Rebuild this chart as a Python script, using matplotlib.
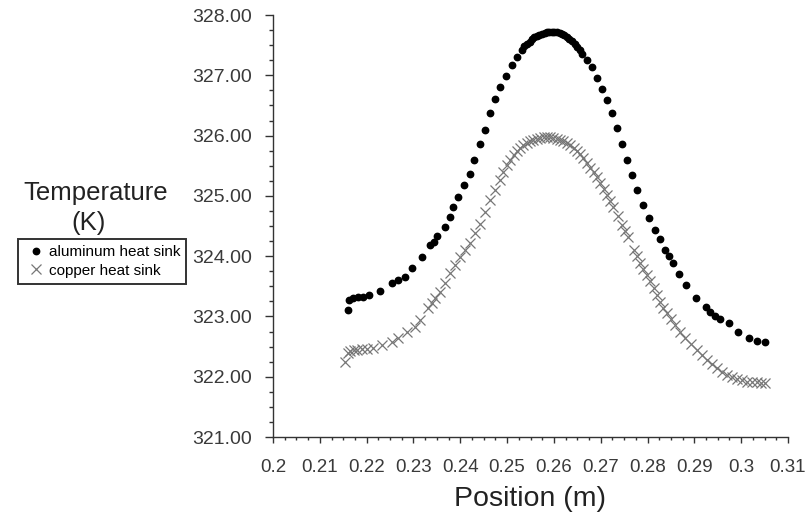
import numpy as np
import matplotlib.pyplot as plt
from matplotlib.ticker import MultipleLocator, FormatStrFormatter

plt.rcParams['font.family'] = ['Liberation Sans', 'DejaVu Sans']

# temperature along the line, aluminum heat sink
al_x = [0.2160, 0.2162, 0.2170, 0.2181, 0.2192, 0.2206, 0.2228, 0.2254, 0.2267, 0.2282,
        0.2296, 0.2318, 0.2335, 0.2343, 0.2350, 0.2368, 0.2378, 0.2385, 0.2396, 0.2407,
        0.2421, 0.2430, 0.2442, 0.2453, 0.2464, 0.2474, 0.2485, 0.2498, 0.2510, 0.2521,
        0.2531, 0.2537, 0.2542, 0.2548, 0.2553, 0.2558, 0.2563, 0.2568, 0.2574, 0.2580,
        0.2585, 0.2590, 0.2596, 0.2601, 0.2606, 0.2612, 0.2617, 0.2622, 0.2628, 0.2633,
        0.2638, 0.2644, 0.2649, 0.2655, 0.2660, 0.2670, 0.2681, 0.2692, 0.2702, 0.2713,
        0.2724, 0.2734, 0.2745, 0.2756, 0.2766, 0.2777, 0.2791, 0.2804, 0.2816, 0.2827,
        0.2838, 0.2845, 0.2854, 0.2868, 0.2882, 0.2904, 0.2925, 0.2934, 0.2944, 0.2955,
        0.2973, 0.2994, 0.3016, 0.3034, 0.3051]
al_t = [323.11, 323.27, 323.30, 323.32, 323.33, 323.36, 323.42, 323.55, 323.60, 323.66,
        323.81, 323.99, 324.18, 324.23, 324.33, 324.49, 324.65, 324.81, 324.98, 325.18,
        325.37, 325.59, 325.86, 326.10, 326.37, 326.60, 326.81, 326.99, 327.17, 327.30,
        327.42, 327.48, 327.52, 327.56, 327.60, 327.63, 327.65, 327.67, 327.69, 327.70,
        327.71, 327.72, 327.72, 327.72, 327.71, 327.70, 327.68, 327.66, 327.64, 327.61,
        327.57, 327.52, 327.47, 327.42, 327.36, 327.26, 327.14, 326.96, 326.78, 326.59,
        326.37, 326.12, 325.86, 325.59, 325.34, 325.10, 324.85, 324.64, 324.44, 324.28,
        324.11, 324.00, 323.88, 323.70, 323.52, 323.30, 323.16, 323.08, 323.01, 322.96,
        322.89, 322.75, 322.65, 322.60, 322.58]

# copper heat sink
cu_x = [0.2154, 0.2160, 0.2165, 0.2172, 0.2180, 0.2190, 0.2200, 0.2214, 0.2232, 0.2254,
        0.2268, 0.2286, 0.2303, 0.2314, 0.2331, 0.2339, 0.2346, 0.2357, 0.2368, 0.2378,
        0.2389, 0.2400, 0.2410, 0.2421, 0.2432, 0.2442, 0.2453, 0.2464, 0.2475, 0.2485,
        0.2492, 0.2499, 0.2506, 0.2514, 0.2521, 0.2528, 0.2535, 0.2542, 0.2549, 0.2556,
        0.2563, 0.2571, 0.2578, 0.2585, 0.2592, 0.2599, 0.2606, 0.2613, 0.2620, 0.2628,
        0.2635, 0.2642, 0.2649, 0.2656, 0.2663, 0.2670, 0.2677, 0.2685, 0.2692, 0.2699,
        0.2706, 0.2713, 0.2720, 0.2727, 0.2736, 0.2745, 0.2752, 0.2759, 0.2770, 0.2777,
        0.2784, 0.2791, 0.2798, 0.2806, 0.2813, 0.2820, 0.2827, 0.2834, 0.2841, 0.2850,
        0.2859, 0.2870, 0.2880, 0.2892, 0.2905, 0.2916, 0.2927, 0.2938, 0.2948, 0.2958,
        0.2969, 0.2980, 0.2991, 0.3002, 0.3012, 0.3023, 0.3034, 0.3043, 0.3051]
cu_t = [322.25, 322.39, 322.43, 322.45, 322.44, 322.46, 322.46, 322.48, 322.53, 322.58,
        322.64, 322.75, 322.83, 322.94, 323.14, 323.22, 323.30, 323.41, 323.55, 323.72,
        323.86, 323.99, 324.10, 324.22, 324.38, 324.54, 324.74, 324.93, 325.10, 325.26,
        325.40, 325.52, 325.60, 325.68, 325.74, 325.80, 325.84, 325.88, 325.91, 325.93,
        325.95, 325.96, 325.97, 325.97, 325.97, 325.96, 325.95, 325.93, 325.91, 325.88,
        325.84, 325.80, 325.75, 325.69, 325.62, 325.55, 325.47, 325.40, 325.31, 325.22,
        325.12, 325.02, 324.92, 324.82, 324.67, 324.52, 324.41, 324.31, 324.11, 324.00,
        323.88, 323.78, 323.69, 323.58, 323.47, 323.36, 323.24, 323.14, 323.05, 322.95,
        322.86, 322.75, 322.64, 322.54, 322.44, 322.36, 322.28, 322.21, 322.14, 322.08,
        322.03, 322.00, 321.97, 321.94, 321.92, 321.92, 321.91, 321.90, 321.89]

xtick_labels = ['0.2', '0.21', '0.22', '0.23', '0.24', '0.25', '0.26',
                '0.27', '0.28', '0.29', '0.3', '0.31']

fig = plt.figure(figsize=(8.07, 5.19), dpi=100)
ax = fig.add_axes([273/807, 1 - 437/519, (788 - 273)/807, (437 - 15)/519])

ax.plot(al_x, al_t, linestyle='none', marker='o', markersize=4.6,
        color='black', label='aluminum heat sink')
ax.plot(cu_x, cu_t, linestyle='none', marker='x', markersize=6.5, markeredgewidth=0.9,
        color='#777777', label='copper heat sink')

ax.set_xlim(0.2, 0.31)
ax.set_ylim(321, 328)
ax.xaxis.set_minor_locator(MultipleLocator(0.0025))
ax.yaxis.set_major_locator(MultipleLocator(1))
ax.yaxis.set_minor_locator(MultipleLocator(0.25))
ax.yaxis.set_major_formatter(FormatStrFormatter('%.2f'))
ax.set_xticks(np.round(np.arange(0.2, 0.3101, 0.01), 2))
ax.set_xticklabels(xtick_labels)

for s in ['top', 'right']:
    ax.spines[s].set_visible(False)
for s in ['left', 'bottom']:
    ax.spines[s].set_color('#333333')
    ax.spines[s].set_linewidth(1.0)

ax.tick_params(axis='both', which='both', labelcolor='#3a3a3a', color='#333333', width=1)
ax.tick_params(axis='y', which='major', length=6, pad=9, labelsize=14)
ax.tick_params(axis='y', which='minor', length=3)
ax.tick_params(axis='x', which='major', length=4.5, pad=11.5, labelsize=13.5)
ax.tick_params(axis='x', which='minor', length=2.5)

ax.set_xlabel('Position (m)', fontsize=20.5, color='#222222', labelpad=7)

fig.text(96/807, 1 - 193/519, 'Temperature', ha='center', va='center',
         fontsize=18.5, color='#222222')
fig.text(89/807, 1 - 223/519, '(K)', ha='center', va='center',
         fontsize=18.5, color='#222222')

leg = fig.legend(loc='upper left', bbox_to_anchor=(18/807, 1 - 239/519),
                 fontsize=11, frameon=True, fancybox=False, edgecolor='black',
                 handlelength=1.5, handletextpad=0.1, borderpad=0.4,
                 labelspacing=0.3, borderaxespad=0)
leg.get_frame().set_linewidth(1.4)

fig.savefig('out.png', dpi=100)
